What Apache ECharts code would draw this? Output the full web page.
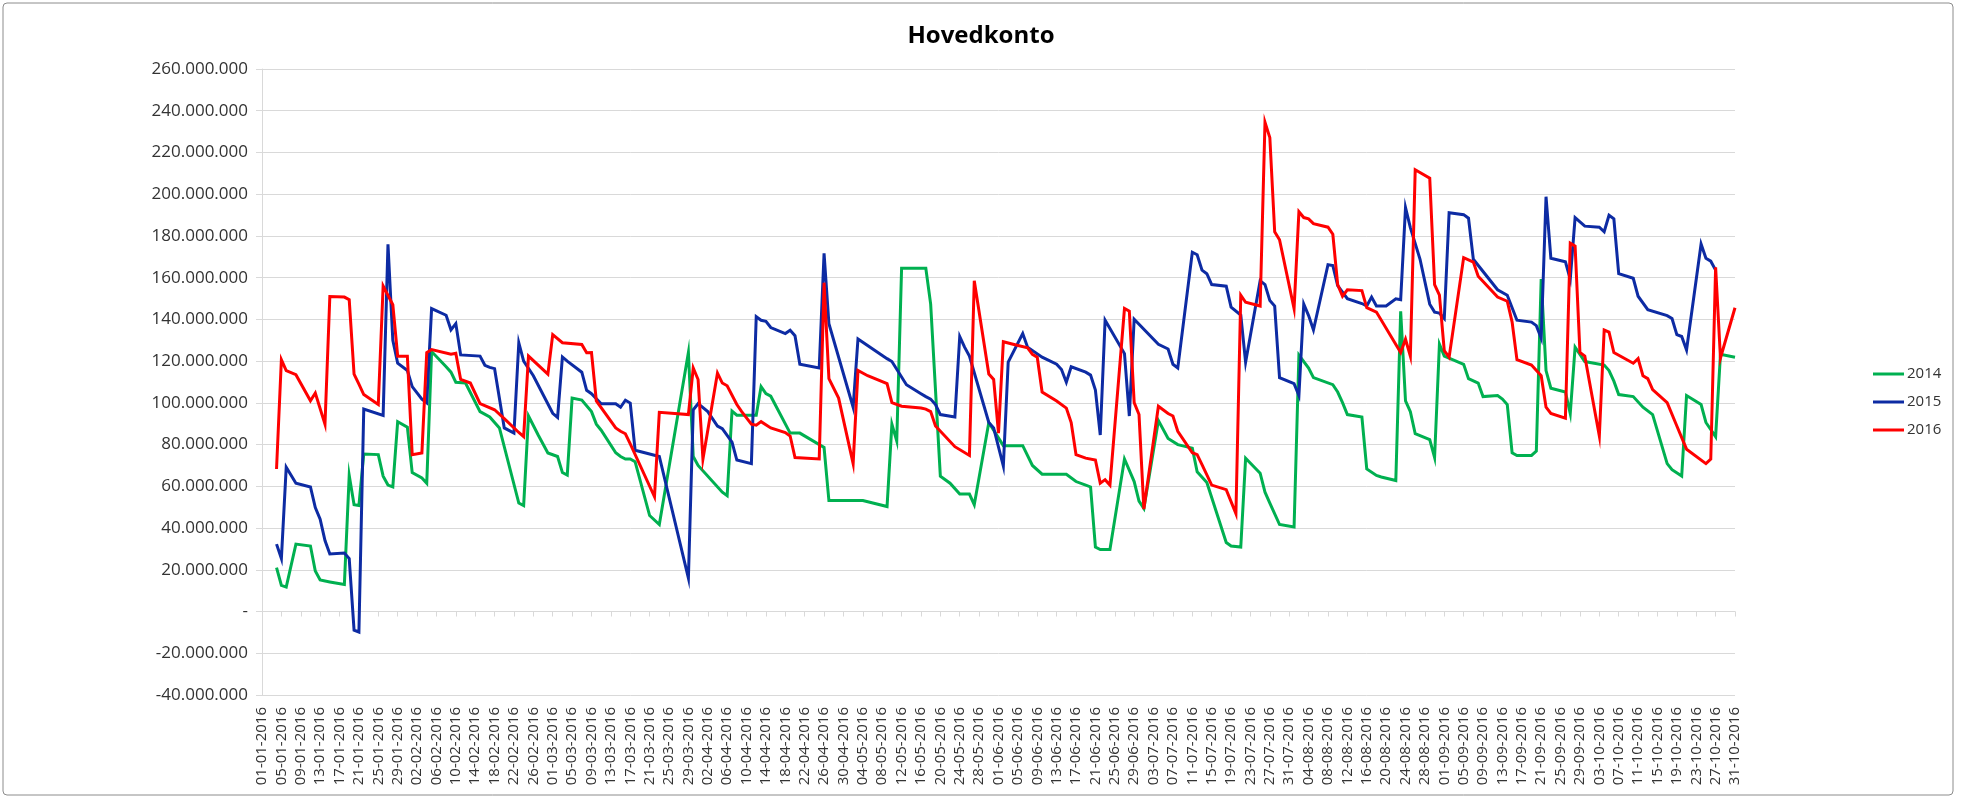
<!DOCTYPE html>
<html>
<head>
<meta charset="utf-8">
<title>Hovedkonto</title>
<script src="https://cdn.jsdelivr.net/npm/echarts@6.0.0/dist/echarts.min.js"></script>
<style>
  html, body { margin: 0; padding: 0; background: #fff; }
  #chart { width: 1962px; height: 798px; }
</style>
</head>
<body>
<div id="chart"></div>
<script>
// x categories: every day 01-01-2016 .. 31-10-2016 (305 days)
const dates = []
for (let d = new Date(Date.UTC(2016, 0, 1)); d <= new Date(Date.UTC(2016, 9, 31)); d.setUTCDate(d.getUTCDate() + 1)) {
  const dd = String(d.getUTCDate()).padStart(2, '0')
  const mm = String(d.getUTCMonth() + 1).padStart(2, '0')
  dates.push(dd + '-' + mm + '-2016')
}

const seriesNames = ['2014', '2015', '2016']

// [day index from 01-01, value in millions] (business days only)
const s2014 = [[3,21],[4,12.5],[5,11.7],[7,32.3],[10,31.4],[11,19.4],[12,15.1],[14,14.2],[17,13],[18,65.2],[19,51.2],[20,50.8],[21,75.5],[24,75.2],[25,64.9],[26,60.6],[27,59.7],[28,91],[30,88.4],[31,66.6],[33,64],[34,61.5],[35,124.6],[38,117.3],[39,114.7],[40,109.9],[42,109.5],[45,95.8],[47,93.2],[49,88],[53,52],[54,50.8],[55,93.7],[57,84.6],[59,76],[61,74.3],[62,66.6],[63,65.4],[64,102.3],[66,101.3],[68,95.8],[69,89.8],[70,86.9],[73,76.1],[74,74.3],[75,73.1],[76,73.1],[77,71.8],[80,46],[82,41.7],[88,124.1],[89,74.3],[90,70],[95,57.2],[96,55.5],[97,96.1],[98,94.1],[101,94.1],[102,94.1],[103,107.8],[104,104.4],[105,103.2],[109,85.5],[111,85.5],[116,78.6],[117,53.2],[124,53.2],[129,50.3],[130,89.8],[131,81.7],[132,164.5],[137,164.5],[138,147.3],[140,64.9],[142,61.5],[144,56.3],[146,56.3],[147,51.2],[150,90.6],[153,79.5],[157,79.5],[159,70],[161,65.8],[166,65.8],[168,62.3],[170,60.6],[171,59.7],[172,30.9],[173,29.7],[175,29.7],[178,73.1],[180,62.3],[181,52.9],[182,49.4],[185,91.5],[187,82.9],[189,80],[192,78.3],[193,67],[195,61.8],[199,33.1],[200,31.4],[202,30.9],[203,73.5],[206,66.3],[207,57.2],[208,52],[210,41.7],[213,40.5],[214,122.9],[216,116.7],[217,112.1],[221,108.7],[222,105.2],[223,100.1],[224,94.4],[227,93.2],[228,68.3],[230,65.2],[231,64.5],[234,62.8],[235,143.9],[236,100.9],[237,95.8],[238,85.2],[241,82.4],[242,73.8],[243,128.1],[244,122.4],[248,118.5],[249,111.6],[251,109.5],[252,103],[255,103.5],[256,101.8],[257,99.2],[258,76.1],[259,74.8],[262,74.8],[263,76.9],[264,159.3],[265,115.5],[266,107],[269,105.2],[270,94.9],[271,126.7],[273,119.8],[277,118.1],[278,115.5],[279,110.4],[280,104],[283,103],[285,97.9],[287,94.4],[290,70.9],[291,68],[293,64.9],[294,103.5],[297,99.2],[298,90.6],[300,83.8],[301,123.3],[304,121.9]]

const s2015 = [[3,32.3],[4,25.4],[5,69.2],[7,61.5],[10,59.7],[11,49.8],[12,44.3],[13,34],[14,27.6],[17,28],[18,25.4],[19,-8.9],[20,-9.8],[21,97],[25,94],[26,176],[27,130],[28,119],[30,115.5],[31,107.8],[33,101.8],[34,100],[35,145.2],[38,142],[39,135],[40,138],[41,123],[45,122.4],[46,118],[47,117],[48,116.4],[50,88],[52,85.5],[53,128.8],[54,120],[56,113],[60,95],[61,93],[62,122],[63,120],[66,114.7],[67,106],[68,104.4],[70,99.6],[73,99.6],[74,97.9],[75,101.3],[76,99.9],[77,77.3],[82,74.3],[88,16],[89,96.7],[90,99.6],[92,95.8],[94,88.9],[95,87.6],[97,81.2],[98,72.6],[101,70.9],[102,141.3],[103,139.6],[104,139.1],[105,136.1],[108,133.2],[109,134.8],[110,132.2],[111,118.5],[115,116.7],[116,171.7],[117,137.9],[122,97.9],[123,130.6],[129,121.2],[130,119.8],[133,108.7],[136,104.4],[137,103],[138,101.8],[139,99.2],[140,94.4],[143,93.2],[144,131.8],[145,126.7],[146,122.4],[150,90.6],[151,88],[153,69.7],[154,119.5],[157,133.2],[158,126.7],[161,121.9],[164,118.5],[165,116],[166,109.9],[167,117.3],[170,114.7],[171,113.3],[172,106.1],[173,84.6],[174,139.6],[175,135.6],[178,123.6],[179,93.7],[180,140.1],[185,128.1],[187,125.8],[188,118.5],[189,116.7],[192,172.2],[193,171],[194,163.6],[195,161.9],[196,156.7],[199,155.9],[200,145.9],[202,142.1],[203,119.5],[206,158.5],[207,156.7],[208,149],[209,146.4],[210,112.1],[213,109.2],[214,103.5],[215,147.3],[216,141.8],[217,134.9],[220,166.2],[221,165.8],[222,156.2],[224,149.9],[227,147.6],[228,146.4],[229,150.7],[230,146.4],[232,146.4],[234,149.9],[235,149.4],[236,193.6],[237,184],[239,168.8],[241,147.3],[242,143.5],[243,143],[244,140.4],[245,191.1],[248,190.2],[249,188.5],[250,168.8],[255,154.2],[257,151.6],[259,139.6],[262,138.7],[263,137],[264,131],[265,198.8],[266,169.3],[269,167.6],[270,159.3],[271,188.8],[273,184.7],[276,184.2],[277,182],[278,189.9],[279,188.2],[280,161.9],[283,159.7],[284,151.1],[286,144.7],[290,141.8],[291,140.4],[292,132.7],[293,131.8],[294,125.3],[297,176.1],[298,169.3],[299,167.9],[300,163.6]]

const s2016 = [[3,68.3],[4,120.7],[5,115.5],[7,113.5],[10,101],[11,104.7],[13,89.8],[14,151],[17,150.7],[18,149.4],[19,113.8],[20,109],[21,104],[24,99.2],[25,156],[27,147],[28,122.4],[30,122.4],[31,75.2],[33,76],[34,124.1],[35,125.5],[39,123.3],[40,123.8],[41,111.2],[43,109.5],[45,99.6],[48,96.7],[50,92.4],[53,85.8],[54,83.8],[55,122.4],[59,113.8],[60,132.7],[62,128.8],[66,128],[67,124],[68,124.1],[69,100.9],[73,88],[74,86.4],[75,85.2],[76,80.3],[81,55],[82,95.5],[88,94.4],[89,116.7],[90,111.2],[91,73.1],[94,114.3],[95,109.5],[96,108.2],[98,99.2],[99,95.8],[101,89.8],[102,89.3],[103,91],[105,88],[108,85.8],[109,84.1],[110,73.8],[115,73.1],[116,157.6],[117,111.6],[119,102.3],[122,70.9],[123,115.5],[125,113],[129,109.2],[130,100.1],[132,98.4],[136,97.5],[137,97],[138,95.8],[139,88.9],[143,79],[146,74.8],[147,158.5],[150,113.8],[151,111.2],[152,85.5],[153,129.3],[155,128.1],[158,126.4],[159,123.3],[160,121.9],[161,105.2],[164,100.9],[166,97.5],[167,90.6],[168,75.2],[170,73.5],[172,72.6],[173,61.5],[174,63.2],[175,60.6],[178,145.2],[179,143.9],[180,100.1],[181,94.4],[182,49.1],[185,98.4],[187,94.9],[188,93.7],[189,86.4],[192,76.1],[193,75.2],[194,70.4],[196,60.6],[199,58.4],[201,46.9],[202,151.6],[203,148.2],[206,146.4],[207,234.5],[208,227.1],[209,182],[210,178.2],[213,145.2],[214,191.6],[215,188.8],[216,188.2],[217,185.9],[220,184.2],[221,180.8],[222,156.7],[223,151.1],[224,154.2],[227,153.8],[228,145.6],[230,143.5],[235,124.1],[236,130.5],[237,122.4],[238,211.7],[241,207.7],[242,156.7],[243,151.6],[244,125],[245,121.9],[248,169.6],[250,167.5],[251,160.7],[255,150.7],[257,148.7],[258,138.7],[259,120.7],[262,118.1],[264,113],[265,97.9],[266,94.9],[269,92.7],[270,176.5],[271,175.1],[272,124.1],[273,122.4],[276,84.1],[277,134.9],[278,133.9],[279,124.1],[283,119],[284,121.2],[285,113],[286,111.6],[287,106.4],[290,100.1],[292,88.9],[294,77.8],[298,70.9],[299,73.1],[300,165],[301,121.5],[304,145.6]]

const seriesData = [s2014, s2015, s2016]
const seriesColors = ['#00b050', '#0d2ba3', '#ff0000']

// 260.000.000 style, zero shown as "-"
function fmtMillions(v) {
  if (v === 0) return '-'
  const n = Math.round(v * 1e6)
  const s = String(Math.abs(n)).replace(/\B(?=(\d{3})+(?!\d))/g, '.')
  return (n < 0 ? '-' : '') + s
}

const FONT = 'Open Sans'
const GRID_GREY = '#d9d9d9'
const chart = echarts.init(document.getElementById('chart'))

const option = {
  animation: false,
  backgroundColor: '#fff',
  title: {
    text: 'Hovedkonto',
    left: 'center',
    top: 19,
    textStyle: { fontFamily: FONT, fontSize: 24, fontWeight: 'bold', color: '#000' },
  },
  legend: {
    data: seriesNames,
    orient: 'vertical',
    left: 1868,
    top: 360,
    icon: 'rect',
    itemWidth: 31,
    itemHeight: 3,
    itemGap: 10,
    textStyle: { fontFamily: FONT, fontSize: 15, color: '#333', lineHeight: 18, padding: [0, 0, 0, -2] },
  },
  graphic: [
    {
      type: 'rect',
      shape: { x: 3, y: 3, width: 1950, height: 792, r: 4 },
      style: { fill: 'none', stroke: '#8c8c8c', lineWidth: 1 },
      silent: true,
    },
  ],
  grid: { left: 262, right: 227, top: 69, bottom: 103, containLabel: false },
  xAxis: [
    {
      type: 'category',
      data: dates,
      boundaryGap: false,
      position: 'bottom',
      axisLine: { show: false, onZero: false },
      axisTick: { show: false },
      axisLabel: { interval: 3, rotate: 90, fontFamily: FONT, fontSize: 15, color: '#333', margin: 12 },
    },
    {
      type: 'category',
      data: dates,
      boundaryGap: false,
      position: 'bottom',
      axisLine: { show: true, onZero: true, lineStyle: { color: GRID_GREY, width: 1 } },
      axisTick: { show: true, interval: 3, length: 5, lineStyle: { color: GRID_GREY } },
      axisLabel: { show: false },
    },
  ],
  yAxis: {
    type: 'value',
    min: -40,
    max: 260,
    interval: 20,
    axisLine: { show: true, lineStyle: { color: GRID_GREY } },
    axisTick: { show: true, length: 6, lineStyle: { color: GRID_GREY } },
    splitLine: { show: true, lineStyle: { color: GRID_GREY, width: 1 } },
    axisLabel: { formatter: fmtMillions, fontFamily: FONT, fontSize: 17, color: '#333', margin: 14 },
  },
  series: seriesNames.map((name, i) => ({
    name: name,
    type: 'line',
    xAxisIndex: 0,
    data: seriesData[i],
    showSymbol: false,
    symbol: 'none',
    color: seriesColors[i],
    lineStyle: { width: 3, color: seriesColors[i], join: 'miter' },
  })),
}

chart.setOption(option)
</script>
</body>
</html>
